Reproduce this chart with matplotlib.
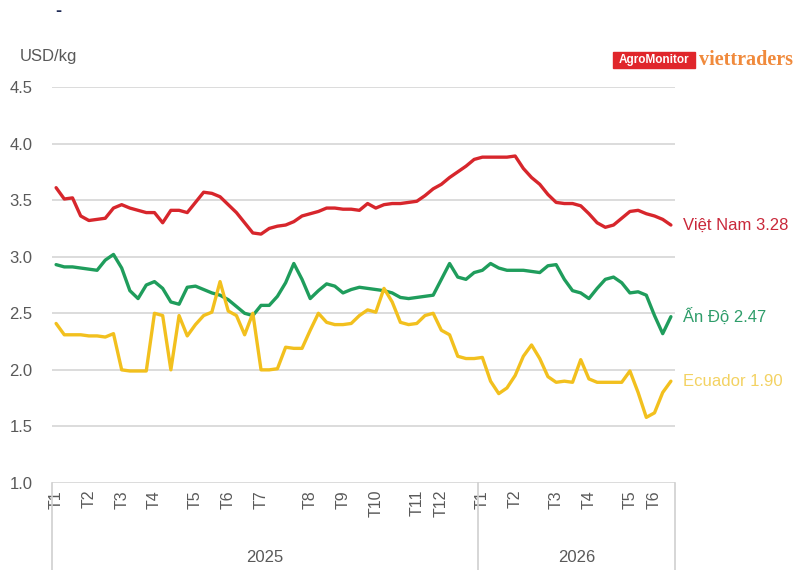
import matplotlib.pyplot as plt
from matplotlib.patches import Rectangle

plt.rcParams['font.family'] = ['Liberation Sans', 'DejaVu Sans']

# giá tôm theo tuần, USD/kg (tuần 0 = đầu T1/2025)
viet_nam = [3.61, 3.51, 3.52, 3.36, 3.32, 3.33, 3.34, 3.43, 3.46, 3.43,
            3.41, 3.39, 3.39, 3.30, 3.41, 3.41, 3.39, 3.48, 3.57, 3.56,
            3.53, 3.46, 3.39, 3.30, 3.21, 3.20, 3.25, 3.27, 3.28, 3.31,
            3.36, 3.38, 3.40, 3.43, 3.43, 3.42, 3.42, 3.41, 3.47, 3.43,
            3.46, 3.47, 3.47, 3.48, 3.49, 3.54, 3.60, 3.64, 3.70, 3.75,
            3.80, 3.86, 3.88, 3.88, 3.88, 3.88, 3.89, 3.78, 3.70, 3.64,
            3.55, 3.48, 3.47, 3.47, 3.45, 3.38, 3.30, 3.26, 3.28, 3.34,
            3.40, 3.41, 3.38, 3.36, 3.33, 3.28]
an_do = [2.93, 2.91, 2.91, 2.90, 2.89, 2.88, 2.97, 3.02, 2.90, 2.70,
         2.63, 2.75, 2.78, 2.72, 2.60, 2.58, 2.73, 2.74, 2.71, 2.68,
         2.66, 2.62, 2.56, 2.50, 2.48, 2.57, 2.57, 2.65, 2.77, 2.94,
         2.80, 2.63, 2.70, 2.76, 2.74, 2.68, 2.71, 2.73, 2.72, 2.71,
         2.70, 2.68, 2.64, 2.63, 2.64, 2.65, 2.66, 2.80, 2.94, 2.82,
         2.80, 2.86, 2.88, 2.94, 2.90, 2.88, 2.88, 2.88, 2.87, 2.86,
         2.92, 2.93, 2.80, 2.70, 2.68, 2.63, 2.72, 2.80, 2.82, 2.77,
         2.68, 2.69, 2.66, 2.48, 2.32, 2.47]
ecuador = [2.41, 2.31, 2.31, 2.31, 2.30, 2.30, 2.29, 2.32, 2.00, 1.99,
           1.99, 1.99, 2.50, 2.48, 2.00, 2.48, 2.30, 2.40, 2.48, 2.51,
           2.78, 2.52, 2.48, 2.31, 2.50, 2.00, 2.00, 2.01, 2.20, 2.19,
           2.19, 2.35, 2.50, 2.42, 2.40, 2.40, 2.41, 2.48, 2.53, 2.51,
           2.72, 2.60, 2.42, 2.40, 2.41, 2.48, 2.50, 2.35, 2.31, 2.12,
           2.10, 2.10, 2.11, 1.90, 1.79, 1.84, 1.95, 2.12, 2.22, 2.10,
           1.94, 1.89, 1.90, 1.89, 2.09, 1.92, 1.89, 1.89, 1.89, 1.89,
           1.99, 1.80, 1.58, 1.62, 1.80, 1.90]

month_labels = ['T1', 'T2', 'T3', 'T4', 'T5', 'T6', 'T7', 'T8', 'T9', 'T10',
                'T11', 'T12', 'T1', 'T2', 'T3', 'T4', 'T5', 'T6']
month_weeks = [0, 4, 8, 12, 17, 21, 25, 31, 35, 39, 44, 47, 52, 56, 61, 65, 70, 73]
years = ['2025', '2026']
year_start = [0, 52]

series = [
    ('Việt Nam', viet_nam, '#d7262c', '#c9283a'),
    ('Ấn Độ', an_do, '#1f9d5c', '#2e9d6a'),
    ('Ecuador', ecuador, '#f2c01e', '#f3d262'),
]

fig = plt.figure(figsize=(8.01, 5.70), dpi=100)
ax = fig.add_axes([52 / 801, 1 - 483 / 570, 623 / 801, 396 / 570])

n = len(viet_nam)
weeks = list(range(n))
for name, vals, color, label_color in series:
    ax.plot(weeks, vals, color=color, lw=2.4, solid_joinstyle='round',
            solid_capstyle='round')
    ax.text(n + 0.5, vals[-1], f'{name} {vals[-1]:.2f}', color=label_color,
            fontsize=12, va='center', ha='left', clip_on=False)

ax.set_xlim(-0.5, n - 0.5)
ax.set_ylim(1.0, 4.5)
ax.set_yticks([1.0, 1.5, 2.0, 2.5, 3.0, 3.5, 4.0, 4.5])
ax.set_yticklabels([f'{v:.1f}' for v in ax.get_yticks()])
ax.tick_params(axis='y', length=0, labelsize=12, labelcolor='#595959', pad=14)
ax.grid(axis='y', color='#d9d9d9', lw=1.3)
ax.set_axisbelow(True)
for s in ax.spines.values():
    s.set_visible(False)

# trục tháng / năm hai tầng
ax.set_xticks(month_weeks)
ax.set_xticklabels(month_labels, rotation=90, fontsize=11.5, color='#595959')
ax.tick_params(axis='x', length=0, pad=5)

xtr = ax.get_xaxis_transform()
ax_h = 396
bounds = [s - 0.5 for s in year_start] + [n - 0.5]
for b in bounds:
    ax.plot([b, b], [0, -(570 - 483) / ax_h], color='#d0d0d0', lw=1.2,
            clip_on=False, transform=xtr)
for i, y in enumerate(years):
    mid = (bounds[i] + bounds[i + 1]) / 2
    ax.text(mid, -(557 - 483) / ax_h, y, ha='center', va='center',
            fontsize=12, color='#595959', clip_on=False, transform=xtr)

fig.text(20 / 801, 1 - 57 / 570, 'USD/kg', fontsize=12, color='#595959',
         va='center', ha='left')
fig.text(58 / 801, 1 - 12 / 570, '-', fontsize=13, color='#1f2a55',
         va='center', ha='center', fontweight='bold')

# logo
fig.patches.append(Rectangle((613 / 801, 1 - 68 / 570), 82 / 801, 16 / 570,
                             transform=fig.transFigure, color='#e0262b'))
fig.text(654 / 801, 1 - 60 / 570, 'AgroMonitor', fontsize=8.5, color='white',
         ha='center', va='center', fontweight='bold')
fig.text(699 / 801, 1 - 60 / 570, 'viettraders', fontsize=14.5,
         color='#f08a3c', ha='left', va='center', fontweight='bold',
         family='Liberation Serif')

fig.savefig('out.png', dpi=100)
